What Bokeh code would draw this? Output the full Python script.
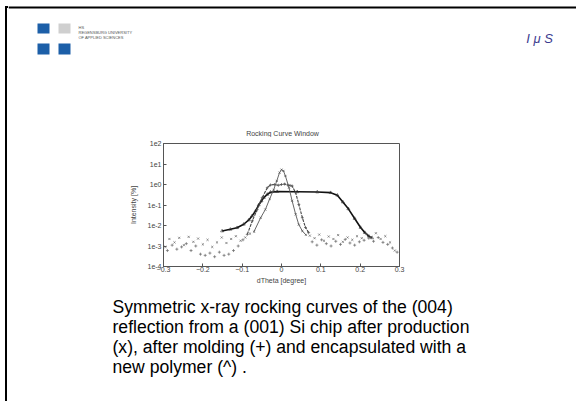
from bokeh.plotting import figure
from bokeh.models import FixedTicker, CustomJSTickFormatter, Range1d, Div, Spacer
from bokeh.layouts import column, row
from bokeh.core.properties import value
from bokeh.embed import file_html
from bokeh.resources import INLINE

# ---------------- data ----------------
title_text = "Rocking Curve Window"
x_label = "dTheta [degree]"
y_label = "Intensity [%]"
x_ticks = [-0.3, -0.2, -0.1, 0, 0.1, 0.2, 0.3]
y_ticks = [1e-4, 1e-3, 1e-2, 1e-1, 1e0, 1e1, 1e2]

caption_lines = [
    "Symmetric x-ray rocking curves of the (004)",
    "reflection from a (001)  Si chip after production",
    "(x), after molding (+) and encapsulated with a",
    "new polymer (^) .",
]
logo_lines = ["HS", "REGENSBURG UNIVERSITY", "OF APPLIED SCIENCES"]
corner_text = "I \u03bc S"

# after production (x): narrow peak
prod_x = [-0.07, -0.053, -0.041, -0.03, -0.02, -0.012, -0.005, 0.0, 0.005, 0.010,
          0.019, 0.027, 0.036, 0.044, 0.053, 0.062]
prod_y = [5e-3, 0.024, 0.06, 0.2, 0.55, 1.5, 3.8, 5.3, 4.6, 2.6,
          0.7, 0.16, 0.035, 0.011, 5.4e-3, 3.5e-3]
prod_noise_x = [-0.295, -0.285, -0.272, -0.26, -0.248, -0.236, -0.224, -0.212, -0.2, -0.188,
                -0.176, -0.164, -0.152, -0.14, -0.128, -0.116, -0.104, -0.092, -0.08,
                0.072, 0.084, 0.096, 0.108, 0.12, 0.132, 0.144, 0.156, 0.168, 0.18,
                0.192, 0.204, 0.216, 0.228, 0.24, 0.252, 0.264, 0.276, 0.288]
prod_noise_y = [9e-4, 2.2e-3, 1.5e-3, 2.5e-3, 1.1e-3, 2.8e-3, 1.6e-3, 2.3e-3, 1.2e-3, 2.0e-3,
                9e-4, 1.5e-3, 2.6e-3, 1.4e-3, 2.2e-3, 3.0e-3, 1.8e-3, 2.6e-3, 4e-3,
                3.2e-3, 2.4e-3, 3.6e-3, 1.8e-3, 2.9e-3, 2.2e-3, 3.4e-3, 1.6e-3, 2.6e-3, 2.0e-3,
                3.0e-3, 2.4e-3, 3.8e-3, 2.8e-3, 4.2e-3, 2.2e-3, 3.0e-3, 1.5e-3, 6e-4]

# after molding (+): plateau near 1
mold_x = [-0.087, -0.074, -0.062, -0.049, -0.036, -0.028, -0.018, -0.008, 0.0, 0.008,
          0.016, 0.022, 0.027, 0.036, 0.044, 0.053, 0.061, 0.069]
mold_y = [3.7e-3, 0.017, 0.06, 0.23, 0.7, 0.95, 1.0, 0.92, 1.0, 1.05,
          0.95, 0.9, 0.85, 0.4, 0.107, 0.024, 8e-3, 4.5e-3]
mold_noise_x = [-0.29, -0.278, -0.266, -0.254, -0.242, -0.23, -0.218, -0.206, -0.194, -0.182,
                -0.17, -0.158, -0.146, -0.134, -0.122, -0.11, -0.098,
                0.078, 0.09, 0.102, 0.114, 0.126, 0.138, 0.15, 0.162, 0.174, 0.186,
                0.198, 0.21, 0.222, 0.234, 0.246, 0.258, 0.27, 0.282, 0.294]
mold_noise_y = [6e-4, 1.1e-3, 7e-4, 9e-4, 1.3e-3, 6e-4, 1.0e-3, 4e-4, 3.5e-4, 4.5e-4,
                3e-4, 5e-4, 3.5e-4, 4e-4, 6e-4, 1.0e-3, 2.0e-3,
                1.6e-3, 1.1e-3, 2.0e-3, 1.3e-3, 1.0e-3, 1.7e-3, 1.2e-3, 2.1e-3, 1.4e-3, 1.1e-3,
                1.6e-3, 1.9e-3, 2.4e-3, 1.7e-3, 2.6e-3, 1.5e-3, 1.2e-3, 8e-4, 5e-4]

# encapsulated with new polymer (^): broad plateau
poly_x = [-0.151, -0.13, -0.113, -0.096, -0.083, -0.075, -0.066, -0.058, -0.051, -0.045,
          -0.036, -0.028, -0.011, 0.04, 0.091, 0.125, 0.142, 0.156, 0.17, 0.186,
          0.201, 0.212, 0.222, 0.23]
poly_y = [5.4e-3, 6.5e-3, 7.8e-3, 0.0115, 0.0186, 0.029, 0.051, 0.1, 0.158, 0.23,
          0.33, 0.42, 0.45, 0.44, 0.43, 0.40, 0.30, 0.14, 0.065, 0.022,
          8e-3, 4.5e-3, 3e-3, 2.5e-3]

FONT = "Liberation Sans"

# ---------------- slide geometry (page px) ----------------
PAGE_W, PAGE_H = 576, 401
EDGE = 8                 # width of the left border strip
HEAD_H = 137             # header band (logo, IμS, chart title)
CH_X0, CH_X1 = 120, 420  # chart canvas columns
CAP_Y0 = 290             # caption band starts here
CH_H = CAP_Y0 - HEAD_H


def deco(x0, x1, y0, y1):
    """A plain figure whose data coordinates are page pixels (y downwards)."""
    f = figure(width=int(x1 - x0), height=int(y1 - y0),
               x_range=Range1d(x0, x1), y_range=Range1d(y1, y0),
               output_backend="svg", toolbar_location=None,
               x_axis_location=None, y_axis_location=None,
               min_border=0, min_border_left=0, min_border_right=0,
               min_border_top=0, min_border_bottom=0)
    f.outline_line_color = None
    f.background_fill_color = "white"
    f.border_fill_color = "white"
    for g in f.grid:
        g.visible = False
    return f


# left border strip of the slide (top-left corner included)
edge = Div(text="", width=EDGE - 5, height=PAGE_H - 6, margin=(6, 0, 0, 5),
           styles={"border-left": "2px solid #000", "border-top": "2px solid #000",
                   "box-sizing": "border-box"})

# header
head = deco(EDGE, PAGE_W, 0, HEAD_H)
head.line([EDGE, PAGE_W], [7, 7], line_color="black", line_width=2)
head.quad(left=[37, 37, 58], right=[49, 49, 70], top=[23, 43, 43], bottom=[33, 54, 54],
          fill_color="#1c5fa8", line_color=None)
head.quad(left=[58], right=[70], top=[23], bottom=[33], fill_color="#cfcfcf", line_color=None)
head.text(x=[78, 78, 78], y=[27, 32, 37], text=logo_lines, text_font=value(FONT),
          text_font_size="4px", text_color="#555555", text_baseline="alphabetic")
head.text(x=[539], y=[38], text=[corner_text], text_font=value(FONT), text_font_size="13px",
          text_font_style="italic", text_color="#3b3b8f", text_align="center",
          text_baseline="alphabetic")
head.text(x=[282], y=[133], text=[title_text], text_font=value(FONT), text_font_size="7px",
          text_color="#444444", text_align="center", text_baseline="middle")

# caption
cap = deco(EDGE, PAGE_W, CAP_Y0, PAGE_H)
cap.text(x=[112] * len(caption_lines), y=[306, 326, 346, 366.5], text=caption_lines,
         text_font=value(FONT), text_font_size="17.6px", text_color="black",
         text_baseline="alphabetic")

# ---------------- the chart ----------------
FRAME_L, FRAME_R, FRAME_T, FRAME_B = 163, 399, 143, 266
p = figure(width=CH_X1 - CH_X0, height=CH_H, x_range=(-0.3, 0.3), y_range=(1e-4, 1e2),
           y_axis_type="log", output_backend="svg", toolbar_location=None, title=None,
           min_border_left=FRAME_L - CH_X0, min_border_right=CH_X1 - FRAME_R,
           min_border_top=FRAME_T - HEAD_H, min_border_bottom=CAP_Y0 - FRAME_B)
p.background_fill_color = "white"
p.border_fill_color = "white"
p.outline_line_color = "#555555"
p.outline_line_width = 1
p.grid.visible = False

for ax in (p.xaxis[0], p.yaxis[0]):
    ax.axis_line_color = "#555555"
    ax.major_tick_line_color = "#555555"
    ax.major_tick_in = 3
    ax.major_tick_out = 0
    ax.minor_tick_line_color = None
    ax.major_label_text_font = FONT
    ax.major_label_text_font_size = "7px"
    ax.major_label_text_color = "#444444"
    ax.axis_label_text_font = FONT
    ax.axis_label_text_font_size = "7px"
    ax.axis_label_text_font_style = "normal"
    ax.axis_label_text_color = "#444444"

p.xaxis.ticker = FixedTicker(ticks=x_ticks)
p.xaxis.major_label_standoff = 0
p.xaxis.axis_label = x_label
p.xaxis.axis_label_standoff = 2
p.yaxis.ticker = FixedTicker(ticks=y_ticks)
p.yaxis.formatter = CustomJSTickFormatter(code="return '1e' + Math.round(Math.log10(tick));")
p.yaxis.major_label_standoff = 2
p.yaxis.axis_label = y_label
p.yaxis.axis_label_standoff = 7

p.line(poly_x, poly_y, line_color="#111111", line_width=1.6)
p.scatter(poly_x, poly_y, marker="triangle", size=3, line_color="#333333", fill_color=None, line_width=0.6)
p.line(mold_x, mold_y, line_color="#444444", line_width=1.1, line_dash="3 1")
p.scatter(mold_x, mold_y, marker="cross", size=3, line_color="#555555", line_width=0.7)
p.scatter(mold_noise_x, mold_noise_y, marker="cross", size=3, line_color="#666666", line_width=0.7)
p.line(prod_x, prod_y, line_color="#555555", line_width=0.9)
p.scatter(prod_x, prod_y, marker="x", size=3, line_color="#555555", line_width=0.7)
p.scatter(prod_noise_x, prod_noise_y, marker="x", size=3, line_color="#666666", line_width=0.7)

middle = row(Spacer(width=CH_X0 - EDGE, height=CH_H), p,
             Spacer(width=PAGE_W - CH_X1, height=CH_H), spacing=0)
layout = row(edge, column(head, middle, cap, spacing=0), spacing=0)
open("out.html", "w").write(file_html(layout, INLINE))
